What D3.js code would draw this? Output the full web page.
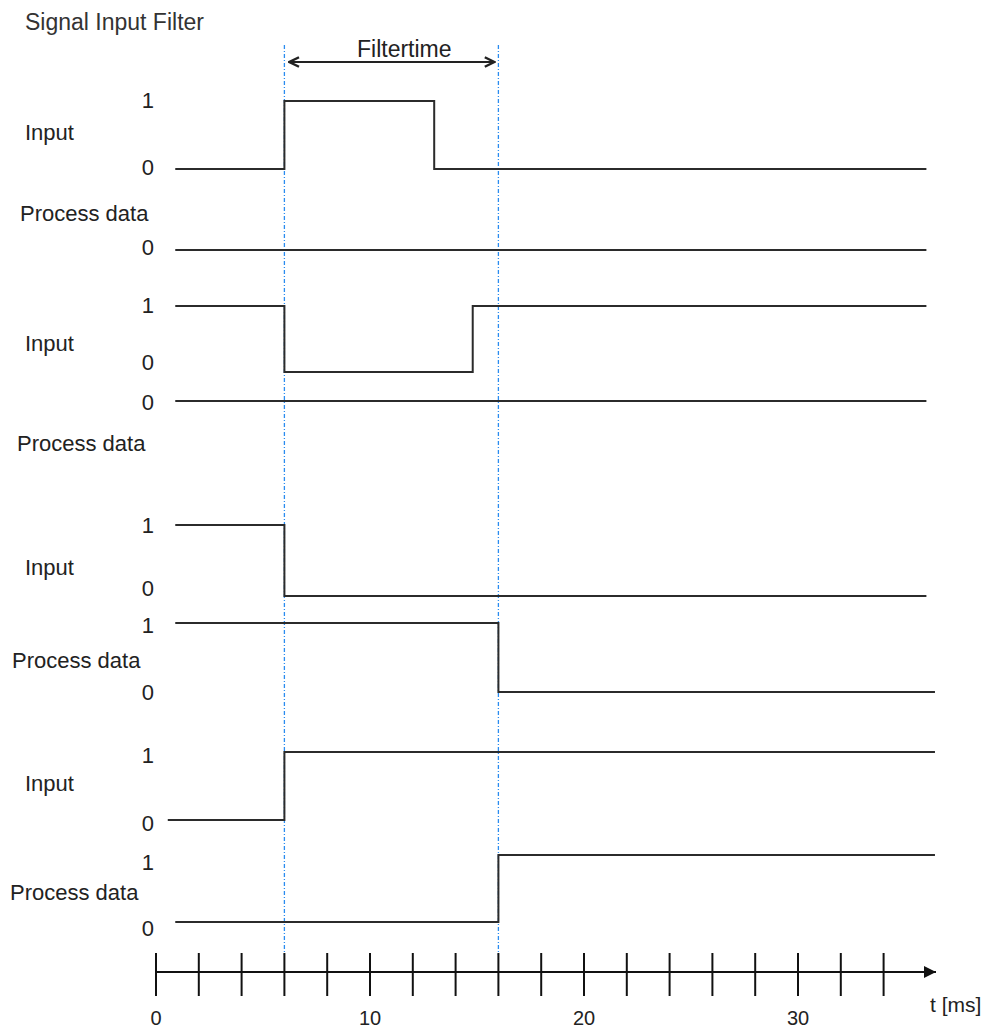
<!DOCTYPE html>
<html><head><meta charset="utf-8">
<script src="https://cdn.jsdelivr.net/npm/d3@7"></script>
<style>
body{margin:0;background:#fff}
text{font-family:"Liberation Sans",Arial,sans-serif;fill:#222}
</style>
</head><body>
<svg id="c" width="989" height="1031"></svg>
<script>
// ---- data ----
const title = "Signal Input Filter";
const filterLabel = "Filtertime";
const axisLabel = "t [ms]";
const timeTicks = [0,2,4,6,8,10,12,14,16,18,20,22,24,26,28,30,32,34];
const tickLabels = [0,10,20,30];
const markerTimes = [6,16];           // filter start / end (ms)
const trackNames = ["Input","Process data","Input","Process data","Input","Process data","Input","Process data"];
const trackLevels = [[0,1],[0],[0,1],[0],[0,1],[0,1],[0,1],[0,1]];
// step signals: [time ms, level] (level holds until next point)
const inputA   = [[0.9,0],[6,1],[13,0],[36,0]];
const processA = [[0.9,0],[36,0]];
const inputB   = [[0.9,1],[6,0],[14.8,1],[36,1]];
const processB = [[0.9,0],[36,0]];
const inputC   = [[0.9,1],[6,0],[36,0]];
const processC = [[0.9,1],[16,0],[36.4,0]];
const inputD   = [[0.55,0],[6,1],[36.4,1]];
const processD = [[0.9,0],[16,1],[36.4,1]];
const signals = [inputA,processA,inputB,processB,inputC,processC,inputD,processD];

// ---- layout ----
const svg = d3.select("#c");
const x = d3.scaleLinear().domain([0,36]).range([156,926.4]);
const rows = [
  {y0:169,y1:101,nameY:132,nameX:25,lab:{0:167,1:100}},
  {y0:250,y1:200,nameY:213,nameX:20,lab:{0:247}},
  {y0:372,y1:306,nameY:343,nameX:25,lab:{0:362,1:305}},
  {y0:401,y1:350,nameY:443,nameX:17,lab:{0:402}},
  {y0:596,y1:525,nameY:567,nameX:25,lab:{0:588,1:525}},
  {y0:692,y1:623,nameY:660,nameX:12,lab:{0:692,1:625}},
  {y0:820,y1:752,nameY:783,nameX:25,lab:{0:823,1:755}},
  {y0:922,y1:855,nameY:892,nameX:10,lab:{0:928,1:862}}
];
const FS = 22;

// title
svg.append("text").attr("x",25).attr("y",30).style("font-size","23px").style("fill","#333").text(title);

// markers (dash-dot blue)
svg.selectAll(".mk").data(markerTimes).enter().append("line")
  .attr("x1",d=>x(d)).attr("x2",d=>x(d)).attr("y1",45).attr("y2",955)
  .attr("stroke","#2a8cf0").attr("stroke-width",1.3).attr("stroke-dasharray","4,2,1,2");

// Filtertime arrow
const defs = svg.append("defs");
defs.append("marker").attr("id","ah").attr("viewBox","0 0 10 10").attr("refX",9).attr("refY",5)
  .attr("markerWidth",12).attr("markerHeight",12).attr("markerUnits","userSpaceOnUse").attr("orient","auto-start-reverse")
  .append("path").attr("d","M1,1 L9,5 L1,9").attr("fill","none").attr("stroke","#222").attr("stroke-width",2);
defs.append("marker").attr("id","at").attr("viewBox","0 0 10 10").attr("refX",10).attr("refY",5)
  .attr("markerWidth",14).attr("markerHeight",12).attr("markerUnits","userSpaceOnUse").attr("orient","auto")
  .append("path").attr("d","M0,0 L10,5 L0,10 Z").attr("fill","#111");
svg.append("line").attr("x1",x(markerTimes[0])+5).attr("x2",x(markerTimes[1])-4).attr("y1",62).attr("y2",62)
  .attr("stroke","#222").attr("stroke-width",2)
  .attr("marker-start","url(#ah)").attr("marker-end","url(#ah)");
svg.append("text").attr("x",357).attr("y",57).style("font-size","23px").text(filterLabel);

// tracks
const line = d3.line().curve(d3.curveStepAfter);
signals.forEach((sig,i)=>{
  const r = rows[i];
  const y = d3.scaleLinear().domain([0,1]).range([r.y0,r.y1]);
  svg.append("path").datum(sig)
    .attr("d", line.x(d=>x(d[0])).y(d=>y(d[1])))
    .attr("fill","none").attr("stroke","#2b2b2b").attr("stroke-width",2);
  svg.append("text").attr("x",r.nameX).attr("y",r.nameY).attr("dy","0.36em")
    .style("font-size",FS+"px").text(trackNames[i]);
  trackLevels[i].forEach(l=>{
    svg.append("text").attr("x",154).attr("y",r.lab[l]).attr("dy","0.36em")
      .attr("text-anchor","end").style("font-size",FS+"px").text(l);
  });
});

// time axis
const axY = 972;
svg.append("line").attr("x1",x(0)).attr("x2",936).attr("y1",axY).attr("y2",axY)
  .attr("stroke","#111").attr("stroke-width",2).attr("marker-end","url(#at)");
svg.selectAll(".tk").data(timeTicks).enter().append("line")
  .attr("x1",d=>x(d)).attr("x2",d=>x(d)).attr("y1",953).attr("y2",996)
  .attr("stroke","#111").attr("stroke-width",2);
svg.selectAll(".tl").data(tickLabels).enter().append("text")
  .attr("x",d=>x(d)).attr("y",1025).attr("text-anchor","middle").style("font-size","20px").text(d=>d);
svg.append("text").attr("x",930).attr("y",1012).style("font-size","21px").text(axisLabel);
</script>
</body></html>
